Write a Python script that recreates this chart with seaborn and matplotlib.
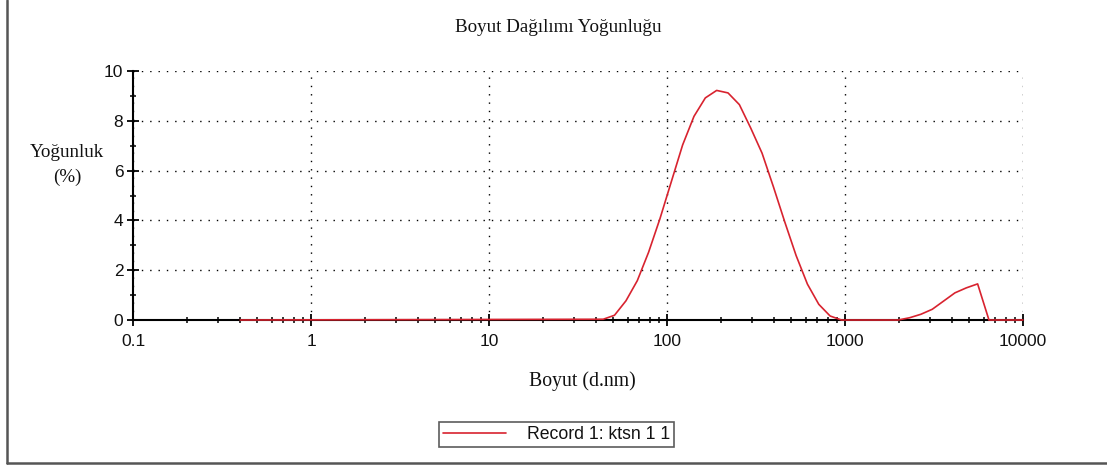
import matplotlib
matplotlib.use("Agg")
import matplotlib.pyplot as plt
import seaborn as sns
import pandas as pd
from matplotlib.lines import Line2D
from matplotlib.ticker import LogLocator, FixedLocator, NullFormatter

# ---- data ----
size_nm = [0.4, 43.8, 50.7, 58.8, 68.1, 78.8, 91.3, 105.7, 122.4, 141.8, 164.2,
           190.1, 220.2, 255.0, 295.3, 342.0, 396.1, 458.7, 531.2, 615.1, 712.4,
           825.0, 955.4, 1990.0, 2305.0, 2669.0, 3091.0, 3580.0, 4145.0, 4801.0,
           5560.0, 6439.0, 10000.0]
intensity = [0.0, 0.03, 0.19, 0.77, 1.58, 2.72, 4.07, 5.55, 7.03, 8.18, 8.92,
             9.22, 9.12, 8.65, 7.71, 6.70, 5.35, 3.94, 2.59, 1.44, 0.63,
             0.16, 0.0, 0.0, 0.09, 0.23, 0.43, 0.76, 1.09, 1.29,
             1.45, 0.0, 0.0]
series_label = "Record 1: ktsn 1 1"
x_ticks = [0.1, 1, 10, 100, 1000, 10000]
x_tick_labels = ["0.1", "1", "10", "100", "1000", "10000"]
y_ticks = [0, 2, 4, 6, 8, 10]
y_minor_ticks = [1, 3, 5, 7, 9]

title = "Boyut Dağılımı Yoğunluğu"
xlabel = "Boyut (d.nm)"
ylabel = "Yoğunluk\n(%)"

df = pd.DataFrame({"size": size_nm, "intensity": intensity})

sns.set_style("white")
plt.rcParams["font.family"] = ["Liberation Sans", "DejaVu Sans"]

W, H = 1107, 468
fig = plt.figure(figsize=(W / 100, H / 100), dpi=100)
fig.patch.set_facecolor("white")
ax = fig.add_axes([133 / W, 1 - 320 / H, (1023 - 133) / W, (320 - 71) / H])

red = "#d8232f"
sns.lineplot(data=df, x="size", y="intensity", ax=ax, color=red, linewidth=1.2,
             legend=False, sort=False, zorder=4, clip_on=False)

ax.set_xscale("log")
ax.set_xlim(0.1, 10000)
ax.set_ylim(0, 10)

ax.xaxis.set_major_locator(FixedLocator(x_ticks))
ax.set_xticklabels(x_tick_labels)
ax.xaxis.set_minor_locator(LogLocator(base=10, subs=range(2, 10), numticks=20))
ax.xaxis.set_minor_formatter(NullFormatter())
ax.yaxis.set_major_locator(FixedLocator(y_ticks))
ax.yaxis.set_minor_locator(FixedLocator(y_minor_ticks))

ax.tick_params(axis="both", which="both", bottom=True, left=True, top=False, right=False)
ax.tick_params(axis="both", which="major", direction="inout", length=8, width=1.3,
               color="black", labelsize=12.5, labelcolor="#111111")
ax.tick_params(axis="both", which="minor", direction="inout", length=5, width=1.1,
               color="black")
ax.tick_params(axis="x", which="major", pad=6)
ax.tick_params(axis="y", which="major", pad=3)

ax.grid(True, which="major", color="black", linestyle=(0, (1, 5)), linewidth=1.0)
ax.set_axisbelow(True)
for s in ("top", "right"):
    ax.spines[s].set_visible(False)
for s in ("left", "bottom"):
    ax.spines[s].set_color("black")
    ax.spines[s].set_linewidth(1.5)
    ax.spines[s].set_zorder(2.5)

serif = ["Liberation Serif", "DejaVu Serif"]
ax.set_xlabel("")
ax.set_ylabel("")
fig.text(558 / W, 1 - 28 / H, title, ha="center", va="center", family=serif,
         fontsize=13.7, color="#111111")
fig.text(582 / W, 1 - 381 / H, xlabel, ha="center", va="center", family=serif,
         fontsize=14.2, color="#111111")
fig.text(67 / W, 1 - 165 / H, ylabel, ha="center", va="center", family=serif,
         fontsize=13.7, color="#111111", linespacing=1.6)

handle = Line2D([], [], color=red, linewidth=1.2)
leg = fig.legend([handle], [series_label], loc="center",
                 bbox_to_anchor=(556.5 / W, 1 - 434.5 / H), frameon=True,
                 fancybox=False, fontsize=12.7, handlelength=3.6, handletextpad=1.2,
                 borderpad=0.2, borderaxespad=0, labelcolor="#111111")
leg.get_frame().set_edgecolor("#333333")
leg.get_frame().set_linewidth(1.2)

# outer frame: left and bottom edges of the panel
fig.add_artist(Line2D([7 / W, 7 / W], [1 - 463 / H, 1.0], transform=fig.transFigure,
                      color="#555555", linewidth=1.8))
fig.add_artist(Line2D([7 / W, 1.0], [1 - 463 / H, 1 - 463 / H], transform=fig.transFigure,
                      color="#555555", linewidth=1.8))

fig.savefig("out.png", dpi=100, facecolor="white")
